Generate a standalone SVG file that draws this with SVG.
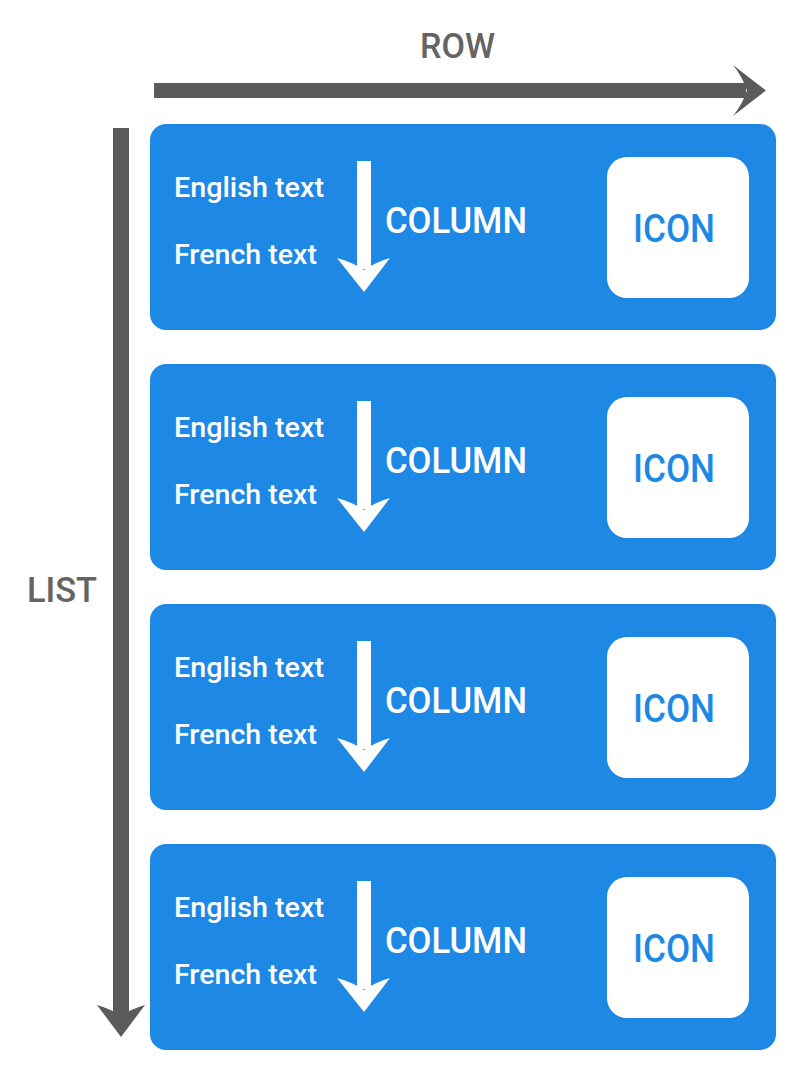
<svg xmlns="http://www.w3.org/2000/svg" width="800" height="1082" viewBox="0 0 800 1082">
<style>
.card{fill:#1E88E5}
.icon{fill:#ffffff}
.t{font-family:Roboto,"Liberation Sans",sans-serif;font-weight:500}
.small{font-size:27px;fill:#ffffff}
.col{font-size:36px;fill:#ffffff}
.ic{font-size:38px;fill:#1E88E5}
.lab{font-size:35px;fill:#646464}
.garrow{fill:#5b5b5b}
.warrow{fill:#ffffff}
</style>
<defs>
<g id="cardtpl">
<rect class="card" x="150" y="124" width="626" height="206" rx="16"/>
<rect class="icon" x="607" y="157" width="142" height="141" rx="20"/>
<text class="t ic" x="633" y="242" textLength="82" lengthAdjust="spacingAndGlyphs">ICON</text>
<text class="t small" x="174" y="197" textLength="150" lengthAdjust="spacingAndGlyphs">English text</text>
<text class="t small" x="174" y="264" textLength="143" lengthAdjust="spacingAndGlyphs">French text</text>
<text class="t col" x="385" y="233" textLength="142" lengthAdjust="spacingAndGlyphs">COLUMN</text>
<rect class="warrow" x="357" y="161" width="14" height="108"/>
<path class="warrow" d="M337,258 Q352,262 364,270 Q376,262 390,258 L364,292 Z"/>
</g>
</defs>
<g id="connectors">
<g id="row-arrow">
<rect class="garrow" x="154" y="83" width="592" height="15"/>
<path class="garrow" d="M733,65 Q742,76 747,90.5 Q742,105 733,116 L766,90.5 Z"/>
</g>
<g id="list-arrow">
<rect class="garrow" x="113" y="128" width="16" height="888"/>
<path class="garrow" d="M97,1005 Q111,1009 121,1016 Q131,1009 145,1005 L121,1037 Z"/>
</g>
</g>
<g id="labels">
<text class="t lab" x="420" y="58" textLength="75" lengthAdjust="spacingAndGlyphs">ROW</text>
<text class="t lab" x="27" y="602" textLength="70" lengthAdjust="spacingAndGlyphs">LIST</text>
</g>
<g id="card1"><use href="#cardtpl"/></g>
<g id="card2"><use href="#cardtpl" transform="translate(0,240)"/></g>
<g id="card3"><use href="#cardtpl" transform="translate(0,480)"/></g>
<g id="card4"><use href="#cardtpl" transform="translate(0,720)"/></g>
</svg>
